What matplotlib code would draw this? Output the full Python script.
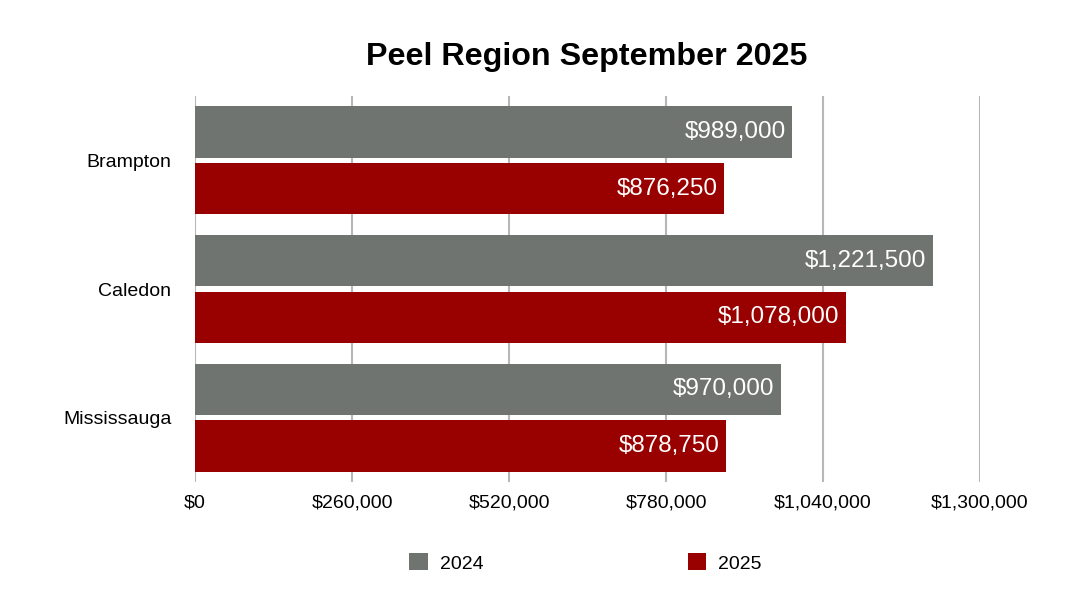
import matplotlib.pyplot as plt
import numpy as np

plt.rcParams['font.family'] = ['Liberation Sans', 'DejaVu Sans']

cities = ['Brampton', 'Caledon', 'Mississauga']
vals_2024 = [989000, 1221500, 970000]
vals_2025 = [876250, 1078000, 878750]
xticks = [0, 260000, 520000, 780000, 1040000, 1300000]

c24 = '#6f7471'
c25 = '#990000'

fig = plt.figure(figsize=(10.84, 6.08), dpi=100)
ax = fig.add_axes([0.1799, 0.2072, 0.7242, 0.6349])

y = np.arange(len(cities))
off = 0.22
h = 0.40
b1 = ax.barh(y - off, vals_2024, height=h, color=c24, label='2024', zorder=3)
b2 = ax.barh(y + off, vals_2025, height=h, color=c25, label='2025', zorder=3)

for bars, vals in ((b1, vals_2024), (b2, vals_2025)):
    for rect, v in zip(bars, vals):
        ax.annotate('${:,}'.format(v), xy=(v, rect.get_y() + rect.get_height() / 2),
                    xytext=(-4.5, 0), textcoords='offset points',
                    ha='right', va='center', color='white', fontsize=17.5, zorder=4)

ax.set_xlim(0, 1300000)
ax.set_ylim(2.5, -0.5)
ax.set_xticks(xticks)
ax.set_xticklabels(['${:,}'.format(t) for t in xticks])
ax.set_yticks(y)
ax.set_yticklabels(cities)
ax.tick_params(axis='both', length=0, labelsize=14)
ax.tick_params(axis='x', pad=9)
ax.tick_params(axis='y', pad=17)
ax.grid(axis='x', color='#b7b7b7', linewidth=1.5, zorder=0)
for s in ax.spines.values():
    s.set_visible(False)

fig.text(587 / 1084, 1 - 57 / 608, 'Peel Region September 2025', ha='center', va='center',
         fontsize=23.2, fontweight='bold')

fig.legend(handles=[b1, b2], loc='center', bbox_to_anchor=(585.5 / 1084, 1 - 563 / 608),
           ncol=2, frameon=False, fontsize=14, handlelength=0.95, handleheight=0.95,
           handletextpad=0.62, columnspacing=10.5)

fig.savefig('out.png', dpi=100)
